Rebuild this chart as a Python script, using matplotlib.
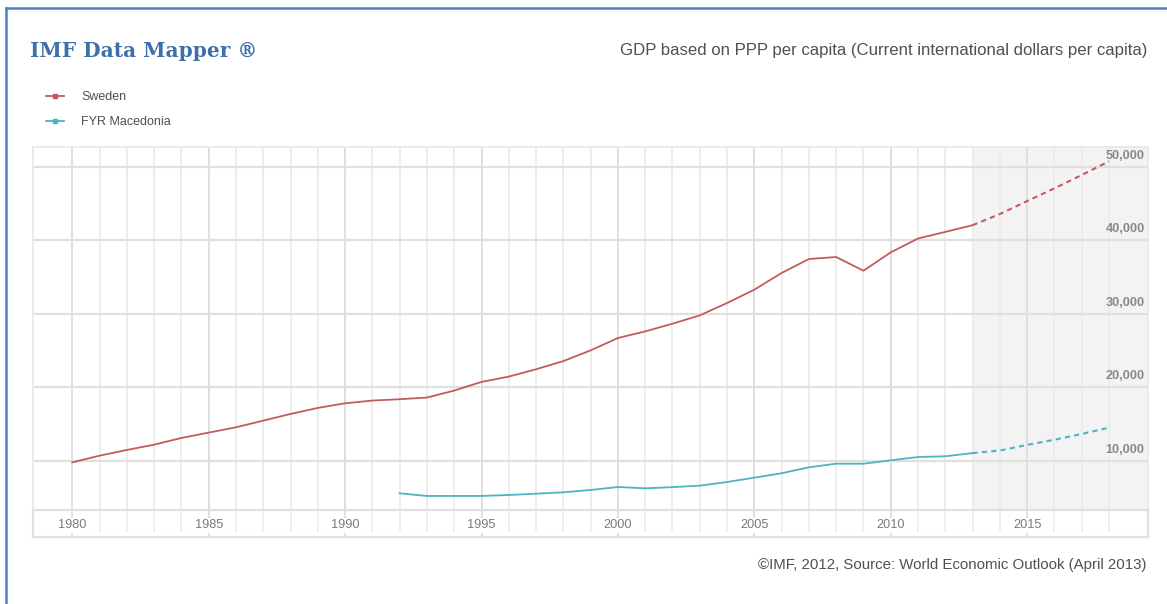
import numpy as np
import matplotlib.pyplot as plt
from matplotlib.lines import Line2D

# GDP based on PPP per capita, current international dollars
years = list(range(1980, 2019))
sweden = [9770, 10680, 11460, 12180, 13090, 13820, 14540, 15450, 16360, 17180,
          17810, 18180, 18360, 18590, 19540, 20720, 21440, 22440, 23550, 25010,
          26690, 27590, 28640, 29770, 31450, 33270, 35540, 37440, 37710, 35850,
          38340, 40230, 41130, 42040, 43560, 45320, 47050, 48870, 50730]
macedonia_years = list(range(1992, 2019))
macedonia = [5560, 5200, 5200, 5200, 5330, 5510, 5700, 6010, 6420, 6240,
             6400, 6600, 7100, 7690, 8290, 9100, 9590, 9590, 10050, 10500,
             10600, 11030, 11380, 12150, 12850, 13630, 14490]
forecast_start = 2013
y_ticks = [10000, 20000, 30000, 40000, 50000]
x_label_years = [1980, 1985, 1990, 1995, 2000, 2005, 2010, 2015]

W, H = 1167, 604
SANS = ['Liberation Sans', 'DejaVu Sans']
SWE_COLOR = '#c45b5b'
MKD_COLOR = '#4cb4c2'


def split(xs, ys, start):
    xs = np.array(xs)
    ys = np.array(ys)
    hist = xs <= start
    fc = xs >= start
    return xs[hist], ys[hist], xs[fc], ys[fc]


def main():
    fig = plt.figure(figsize=(W / 100, H / 100), dpi=100)
    fig.patch.set_facecolor('white')

    # outer blue frame (left and top edges visible)
    fig.add_artist(Line2D([5.5 / W, 5.5 / W], [0, 1 - 7.5 / H], color='#4f81bd', lw=1.8))
    fig.add_artist(Line2D([5.5 / W, 1], [1 - 7.5 / H, 1 - 7.5 / H], color='#4f81bd', lw=1.8))

    x0, x1 = 1978.56, 2019.43
    left, right = 33 / W, 1148 / W

    # main plot area
    ax = fig.add_axes([left, (H - 510) / H, right - left, (510 - 147) / H])
    ax.set_xlim(x0, x1)
    ax.set_ylim(3290, 52680)
    ax.axvspan(forecast_start, x1, color='#f3f3f3', lw=0, zorder=0)
    for yr in range(1980, 2019):
        c = '#dcdcdc' if yr % 5 == 0 else '#ececec'
        ax.axvline(yr, color=c, lw=1.3, zorder=1)
    for v in y_ticks:
        ax.axhline(v, color='#e0e0e0', lw=1.6, zorder=1)
    for s in ax.spines.values():
        s.set_color('#e8e8e8')
        s.set_linewidth(1.2)
    ax.spines['bottom'].set_visible(False)
    ax.set_xticks([])
    ax.set_yticks([])

    for v in y_ticks:
        ax.text(0.997, v + 1100, f'{v:,}', transform=ax.get_yaxis_transform(),
                ha='right', va='baseline', fontsize=9.2, color='#888888',
                family=SANS, fontweight='bold', zorder=3)

    hx, hy, fx, fy = split(years, sweden, forecast_start)
    ax.plot(hx, hy, color=SWE_COLOR, lw=1.3, zorder=4)
    ax.plot(fx, fy, color=SWE_COLOR, lw=1.5, ls=(0, (2.5, 2)), zorder=4)
    hx, hy, fx, fy = split(macedonia_years, macedonia, forecast_start)
    ax.plot(hx, hy, color=MKD_COLOR, lw=1.3, zorder=4)
    ax.plot(fx, fy, color=MKD_COLOR, lw=1.5, ls=(0, (2.5, 2)), zorder=4)

    # x-axis band
    ax2 = fig.add_axes([left, (H - 537) / H, right - left, 27 / H])
    ax2.set_xlim(x0, x1)
    ax2.set_ylim(0, 1)
    for yr in range(1980, 2019):
        if yr % 5 == 0:
            ax2.axvline(yr, color='#dcdcdc', lw=1.2, zorder=1)
        else:
            ax2.axvline(yr, ymin=0.22, ymax=1, color='#ececec', lw=1.2, zorder=1)
    for yr in x_label_years:
        ax2.text(yr, 0.44, str(yr), ha='center', va='center', fontsize=9.2,
                 color='#7a7a7a', family=SANS,
                 bbox=dict(facecolor='white', edgecolor='none', pad=1), zorder=3)
    for s in ax2.spines.values():
        s.set_color('#e0e0e0')
        s.set_linewidth(1.6)
    ax2.set_xticks([])
    ax2.set_yticks([])

    # titles and notes
    fig.text(30 / W, 1 - 51 / H, 'IMF Data Mapper \u00ae', ha='left', va='center',
             fontsize=14.5, fontweight='bold', color='#3d6fab',
             family=['DejaVu Serif'])
    fig.text(1147 / W, 1 - 51 / H,
             'GDP based on PPP per capita (Current international dollars per capita)',
             ha='right', va='center', fontsize=12.1, color='#505050', family=SANS)
    fig.text(1147 / W, 1 - 565 / H,
             '\u00a9IMF, 2012, Source: World Economic Outlook (April 2013)',
             ha='right', va='center', fontsize=10.85, color='#505050', family=SANS)

    handles = [Line2D([], [], color=SWE_COLOR, lw=1.3, marker='s', markersize=3.5),
               Line2D([], [], color=MKD_COLOR, lw=1.3, marker='s', markersize=3.5)]
    fig.legend(handles, ['Sweden', 'FYR Macedonia'], loc='upper left',
               bbox_to_anchor=(46 / W, 1 - 91 / H), frameon=False, borderpad=0,
               borderaxespad=0, handlelength=1.45, handletextpad=1.35,
               labelspacing=1.05, prop={'family': SANS, 'size': 9},
               labelcolor='#505050')

    fig.savefig('out.png', dpi=100)


if __name__ == "__main__":
    main()
